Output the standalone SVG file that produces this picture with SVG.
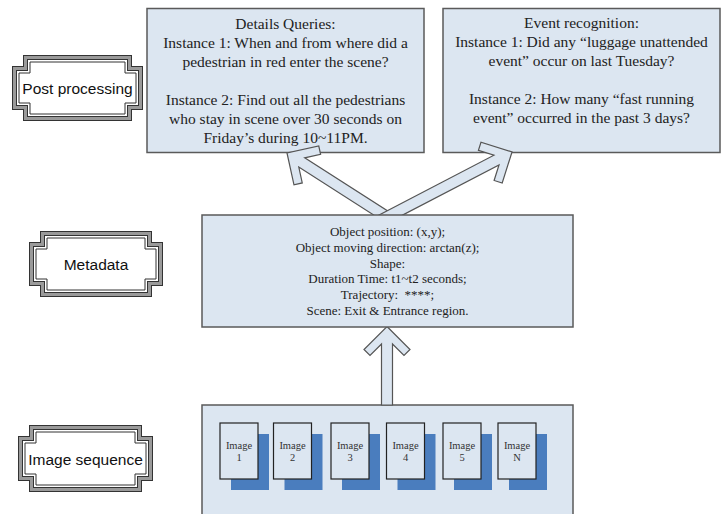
<svg xmlns="http://www.w3.org/2000/svg" width="725" height="514" viewBox="0 0 725 514">
<style>
.box{fill:#dce6f1;stroke:#5a5a5a;stroke-width:1.5}
.t{font-family:"Liberation Serif","Times New Roman",serif;fill:#222;text-anchor:middle}
.q{font-size:15.5px}
.m{font-size:13px}
.im{font-size:10.5px;fill:#333}
.lbl{font-family:"Liberation Sans",Arial,sans-serif;font-size:15.5px;fill:#111;text-anchor:middle}
.fo{fill:#fff;stroke:#333;stroke-width:5}
.fm{fill:none;stroke:#9a9a9a;stroke-width:3}
.fi{fill:none;stroke:#333;stroke-width:1}
.card{fill:#dce6f1;stroke:#222;stroke-width:1.2}
.sh{fill:#4a7dbe}
.arr{fill:#dce6f1;stroke:#555;stroke-width:1.2;stroke-linejoin:miter}
</style>
<rect width="725" height="514" fill="#fff"/>

<g id="details-queries">
<rect class="box" x="147" y="8.5" width="277" height="144"/>
<text class="t q" x="285.5" y="29">Details Queries:</text>
<text class="t q" x="285.5" y="48">Instance 1: When and from where did a</text>
<text class="t q" x="285.5" y="67">pedestrian in red enter the scene?</text>
<text class="t q" x="285.5" y="105">Instance 2: Find out all the pedestrians</text>
<text class="t q" x="285.5" y="124">who stay in scene over 30 seconds on</text>
<text class="t q" x="285.5" y="143">Friday’s during 10~11PM.</text>
</g>

<g id="event-recognition">
<rect class="box" x="443" y="8.5" width="277" height="144"/>
<text class="t q" x="581.5" y="28">Event recognition:</text>
<text class="t q" x="581.5" y="47">Instance 1: Did any “luggage unattended</text>
<text class="t q" x="581.5" y="66">event” occur on last Tuesday?</text>
<text class="t q" x="581.5" y="104">Instance 2: How many “fast running</text>
<text class="t q" x="581.5" y="123">event” occurred in the past 3 days?</text>
</g>

<g id="image-sequence-box">
<rect class="box" x="202" y="405" width="371" height="115"/>
<rect class="sh" x="231" y="434" width="38" height="56"/>
<rect class="card" x="220" y="423" width="38" height="56"/>
<text class="t im" x="239" y="449">Image</text>
<text class="t im" x="239" y="461">1</text>
<rect class="sh" x="284.5" y="434" width="38" height="56"/>
<rect class="card" x="273.5" y="423" width="38" height="56"/>
<text class="t im" x="292.5" y="449">Image</text>
<text class="t im" x="292.5" y="461">2</text>
<rect class="sh" x="342" y="434" width="38" height="56"/>
<rect class="card" x="331" y="423" width="38" height="56"/>
<text class="t im" x="350" y="449">Image</text>
<text class="t im" x="350" y="461">3</text>
<rect class="sh" x="397.5" y="434" width="38" height="56"/>
<rect class="card" x="386.5" y="423" width="38" height="56"/>
<text class="t im" x="405.5" y="449">Image</text>
<text class="t im" x="405.5" y="461">4</text>
<rect class="sh" x="454" y="434" width="38" height="56"/>
<rect class="card" x="443" y="423" width="38" height="56"/>
<text class="t im" x="462" y="449">Image</text>
<text class="t im" x="462" y="461">5</text>
<rect class="sh" x="509" y="434" width="38" height="56"/>
<rect class="card" x="498" y="423" width="38" height="56"/>
<text class="t im" x="517" y="449">Image</text>
<text class="t im" x="517" y="461">N</text>
</g>

<g id="connectors">
<path class="arr" d="M287,153 L293.98,184.77 L302.26,182.95 L298.78,167.06 L393.54,227.70 L399.46,218.44 L304.70,157.80 L320.59,154.31 L318.77,146.03 Z"/>
<path class="arr" d="M512,152 L502.20,183.02 L494.11,180.46 L499.01,164.95 L377.02,228.40 L371.94,218.64 L493.93,155.19 L478.43,150.30 L480.98,142.20 Z"/>
<path class="arr" d="M387,326.5 L410,349.5 L404,355.5 L392.5,344 L392.5,405 L381.5,405 L381.5,344 L370,355.5 L364,349.5 Z"/>
</g>

<g id="metadata-box">
<rect class="box" x="202" y="215" width="371" height="112"/>
<text class="t m" x="387.5" y="236">Object position: (x,y);</text>
<text class="t m" x="387.5" y="251.8">Object moving direction: arctan(z);</text>
<text class="t m" x="387.5" y="267.6">Shape:</text>
<text class="t m" x="387.5" y="283.4">Duration Time: t1~t2 seconds;</text>
<text class="t m" x="387.5" y="299.2">Trajectory:&#160; ****;</text>
<text class="t m" x="387.5" y="315">Scene: Exit &amp; Entrance region.</text>
</g>

<g id="label-post-processing">
<path class="fo" d="M25.5,57.5 H129.5 V68.5 H140.5 V107.5 H129.5 V118.5 H25.5 V107.5 H14.5 V68.5 H25.5 Z"/>
<path class="fm" d="M25.5,57.5 H129.5 V68.5 H140.5 V107.5 H129.5 V118.5 H25.5 V107.5 H14.5 V68.5 H25.5 Z"/>
<path class="fi" d="M30,62 H125 V73 H136 V103 H125 V114 H30 V103 H19 V73 H30 Z"/>
<text class="lbl" x="77.5" y="93.5">Post processing</text>
</g>

<g id="label-metadata">
<path class="fo" d="M42.5,233.5 H149.5 V244.5 H160.5 V283.5 H149.5 V294.5 H42.5 V283.5 H31.5 V244.5 H42.5 Z"/>
<path class="fm" d="M42.5,233.5 H149.5 V244.5 H160.5 V283.5 H149.5 V294.5 H42.5 V283.5 H31.5 V244.5 H42.5 Z"/>
<path class="fi" d="M47,238 H145 V249 H156 V279 H145 V290 H47 V279 H36 V249 H47 Z"/>
<text class="lbl" x="96" y="269.5">Metadata</text>
</g>

<g id="label-image-sequence">
<path class="fo" d="M31.5,427.5 H139.5 V438.5 H150.5 V478.5 H139.5 V489.5 H31.5 V478.5 H20.5 V438.5 H31.5 Z"/>
<path class="fm" d="M31.5,427.5 H139.5 V438.5 H150.5 V478.5 H139.5 V489.5 H31.5 V478.5 H20.5 V438.5 H31.5 Z"/>
<path class="fi" d="M36,432 H135 V443 H146 V474 H135 V485 H36 V474 H25 V443 H36 Z"/>
<text class="lbl" x="85.5" y="464.5">Image sequence</text>
</g>
</svg>
